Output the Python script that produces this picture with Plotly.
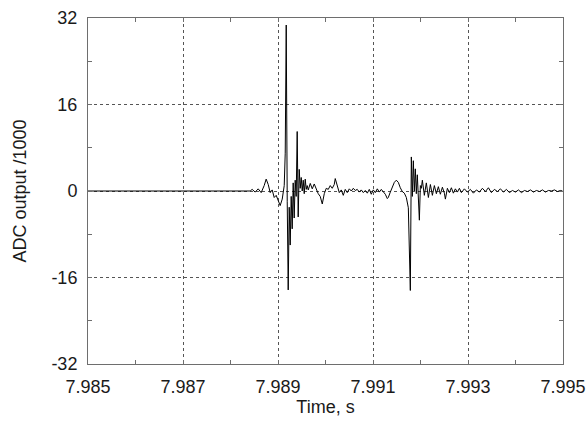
import plotly.graph_objects as go

# Time (s) and ADC output (/1000)
time_s = [
    7.985000, 7.988414, 7.988456, 7.988520, 7.988583, 7.988646, 7.988709, 7.988751,
    7.988794, 7.988836, 7.988878, 7.988920, 7.988962, 7.989004, 7.989046, 7.989089,
    7.989131, 7.989152, 7.989173, 7.989194, 7.989215, 7.989236, 7.989257, 7.989278,
    7.989299, 7.989320, 7.989341, 7.989362, 7.989383, 7.989404, 7.989425, 7.989447,
    7.989468, 7.989489, 7.989510, 7.989531, 7.989552, 7.989573, 7.989594, 7.989615,
    7.989637, 7.989679, 7.989721, 7.989763, 7.989805, 7.989847, 7.989889, 7.989932,
    7.989974, 7.990016, 7.990058, 7.990100, 7.990142, 7.990184, 7.990205, 7.990248,
    7.990290, 7.990332, 7.990374, 7.990416, 7.990458, 7.990501, 7.990543, 7.990585,
    7.990627, 7.990669, 7.990711, 7.990753, 7.990796, 7.990838, 7.990880, 7.990922,
    7.990964, 7.991006, 7.991048, 7.991091, 7.991133, 7.991175, 7.991217, 7.991259,
    7.991301, 7.991322, 7.991365, 7.991407, 7.991449, 7.991491, 7.991533, 7.991575,
    7.991617, 7.991660, 7.991702, 7.991744, 7.991765, 7.991786, 7.991807, 7.991828,
    7.991849, 7.991870, 7.991891, 7.991912, 7.991933, 7.991955, 7.991976, 7.991997,
    7.992018, 7.992039, 7.992081, 7.992123, 7.992166, 7.992208, 7.992250, 7.992292,
    7.992334, 7.992376, 7.992418, 7.992461, 7.992503, 7.992524, 7.992566, 7.992608,
    7.992650, 7.992692, 7.992734, 7.992777, 7.992819, 7.992861, 7.992924, 7.992987,
    7.993051, 7.993114, 7.993177, 7.993240, 7.993303, 7.993367, 7.993430, 7.993493,
    7.993556, 7.993620, 7.993683, 7.993746, 7.993809, 7.993872, 7.993936, 7.993999,
    7.994062, 7.994125, 7.994189, 7.994252, 7.994315, 7.994378, 7.994441, 7.994505,
    7.994568, 7.994631, 7.994694, 7.994758, 7.994821, 7.994884, 7.994947, 7.994989,
]
adc_k = [
    0.0, 0.0, 0.3, -0.2, 0.4, -0.3, 1.0, 2.2,
    1.2, -0.3, 0.2, -1.2, -0.8, -1.8, -2.7, -1.5,
    1.0, 7.0, 30.7, -2.0, -18.3, -3.0, -10.0, -1.0,
    -7.0, 1.5, -5.0, 2.0, -1.0, 11.0, -4.8, 4.0,
    0.5, 2.5, 0.0, 2.0, -0.5, 2.2, 0.3, 1.0,
    0.2, 1.4, 0.4, 1.3, 0.2, -0.5, -1.0, -2.4,
    -0.5, 0.5, 0.3, 1.0, 0.5, 1.2, 2.3, 0.8,
    -0.3, 0.2, -0.8, 0.3, -0.3, 0.4, 0.0, 0.5,
    0.1, 0.3, -0.2, 0.2, -0.3, 0.1, -0.4, 0.3,
    -0.6, 0.2, -0.3, 0.4, -0.2, 0.3, -0.2, -0.6,
    -1.4, -1.2, -0.2, 0.8, 1.6, 2.0, 1.6, 0.6,
    -0.1, -0.4, -1.2, -3.1, -11.0, -18.4, 6.3, -1.0,
    5.6, 0.0, 4.1, -0.5, 3.0, -1.5, -5.4, 1.0,
    0.5, 2.0, -0.8, 1.5, -1.2, 1.2, -0.8, 1.0,
    -0.5, 0.8, -0.6, 0.7, -0.4, -1.5, 0.5, -0.3,
    0.6, -0.4, 0.4, -0.2, 0.5, -0.3, 0.4, -0.2,
    0.3, -0.4, 0.2, -0.2, 0.5, -0.1, 0.6, -0.3,
    0.3, -0.1, 0.4, -0.2, 0.3, -0.3, 0.1, -0.2,
    0.2, -0.3, 0.1, -0.1, 0.2, -0.2, 0.1, -0.1,
    0.2, -0.2, 0.1, 0.0, 0.2, -0.1, 0.1, 0.0,
]

x_ticks = [7.985, 7.987, 7.989, 7.991, 7.993, 7.995]
x_tick_labels = ["7.985", "7.987", "7.989", "7.991", "7.993", "7.995"]
y_ticks = [-32, -16, 0, 16, 32]
y_tick_labels = ["-32", "-16", "0", "16", "32"]

font_family = "Liberation Sans, Arial, sans-serif"

fig = go.Figure()
fig.add_trace(go.Scatter(
    x=time_s, y=adc_k, mode="lines",
    line=dict(color="black", width=1),
    hoverinfo="skip", showlegend=False,
))

axis_common = dict(
    showline=True, linecolor="#6e6e6e", linewidth=1, mirror="ticks",
    showgrid=True, gridcolor="#555555", griddash="dot", gridwidth=1,
    zeroline=False, automargin=False,
    ticks="inside", ticklen=4, tickcolor="#6e6e6e",
    tickfont=dict(family=font_family, size=18, color="#1a1a1a"),
)

fig.update_xaxes(
    range=[7.985, 7.995], tickvals=x_ticks, ticktext=x_tick_labels,
    minor=dict(dtick=0.001, tick0=7.985, ticks="inside", ticklen=4,
               tickcolor="#6e6e6e", showgrid=False),
    title=dict(text="Time, s", font=dict(family=font_family, size=18, color="#1a1a1a"),
               standoff=3),
    ticklabelstandoff=6,
    **axis_common,
)
fig.update_yaxes(
    range=[-32, 32], tickvals=y_ticks, ticktext=y_tick_labels,
    minor=dict(dtick=8, tick0=0, ticks="inside", ticklen=4,
               tickcolor="#6e6e6e", showgrid=False),
    title=dict(text="ADC output /1000", font=dict(family=font_family, size=18, color="#1a1a1a"),
               standoff=20),
    ticklabelstandoff=6,
    **axis_common,
)

fig.update_layout(
    width=586, height=432,
    margin=dict(l=88, r=23, t=18, b=68),
    paper_bgcolor="white", plot_bgcolor="white",
)

fig.write_html(
    "out.html",
    config={"displayModeBar": False, "staticPlot": True},
    post_script="document.body.style.margin='0';document.body.style.overflow='hidden';",
)
